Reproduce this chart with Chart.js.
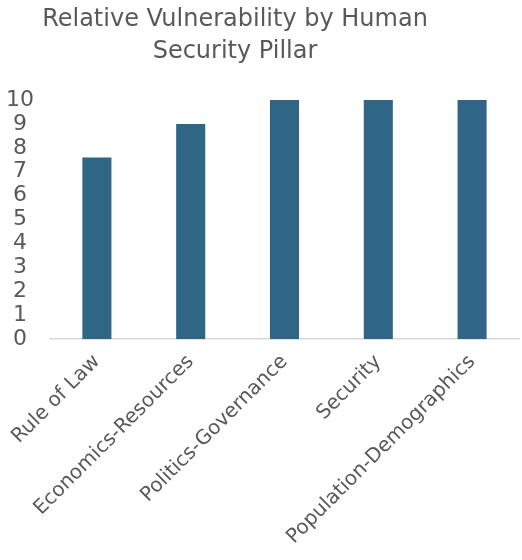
<!DOCTYPE html>
<html>
<head>
<meta charset="utf-8">
<script src="https://cdn.jsdelivr.net/npm/chart.js@4"></script>
<style>
  body { margin: 0; background: #fff; }
  #wrap { position: relative; width: 522px; height: 560px; }
  #titulo {
    position: absolute; left: 0; top: 2px; width: 470px;
    text-align: center; font-family: 'DejaVu Sans', sans-serif;
    font-size: 24px; line-height: 32px; color: #595959;
  }
</style>
</head>
<body>
<div id="wrap">
  <div id="titulo">Relative Vulnerability by Human<br>Security Pillar</div>
  <canvas id="grafica" width="522" height="560"></canvas>
</div>
<script>
const pilares = ['Rule of Law', 'Economics-Resources', 'Politics-Governance', 'Security', 'Population-Demographics']
const vulnerabilidad = [7.6, 9.0, 10, 10, 10]
const ticksY = [0, 1, 2, 3, 4, 5, 6, 7, 8, 9, 10]

const gris = '#595959'
const fuente = "'DejaVu Sans', sans-serif"

const ctx = document.getElementById('grafica').getContext('2d')
new Chart(ctx, {
    type: 'bar',
    data: {
        labels: pilares,
        datasets: [{
            label: 'Relative Vulnerability',
            data: vulnerabilidad,
            backgroundColor: '#2F6686',
            categoryPercentage: 1,
            barPercentage: 0.31
        }]
    },
    options: {
        responsive: false,
        animation: false,
        layout: { padding: { top: 100, right: 3, bottom: 0, left: 0 } },
        plugins: {
            legend: { display: false },
            tooltip: { enabled: false }
        },
        scales: {
            y: {
                min: 0,
                max: 10,
                afterBuildTicks: axis => { axis.ticks = ticksY.map(v => ({ value: v })) },
                afterFit: axis => { axis.width = 50 },
                grid: { display: false, drawTicks: false },
                border: { display: false },
                ticks: {
                    color: gris,
                    font: { family: fuente, size: 22 },
                    padding: 16,
                    autoSkip: false,
                    crossAlign: 'center'
                }
            },
            x: {
                // las etiquetas giradas no deben empujar el área del gráfico
                afterFit: axis => { axis.paddingLeft = 0; axis.paddingRight = 0 },
                grid: { display: false, drawTicks: false },
                border: { display: true, color: '#D9D9D9', width: 1.5 },
                ticks: {
                    color: gris,
                    font: { family: fuente, size: 20 },
                    maxRotation: 45,
                    minRotation: 45,
                    padding: 11
                }
            }
        }
    }
})
</script>
</body>
</html>
